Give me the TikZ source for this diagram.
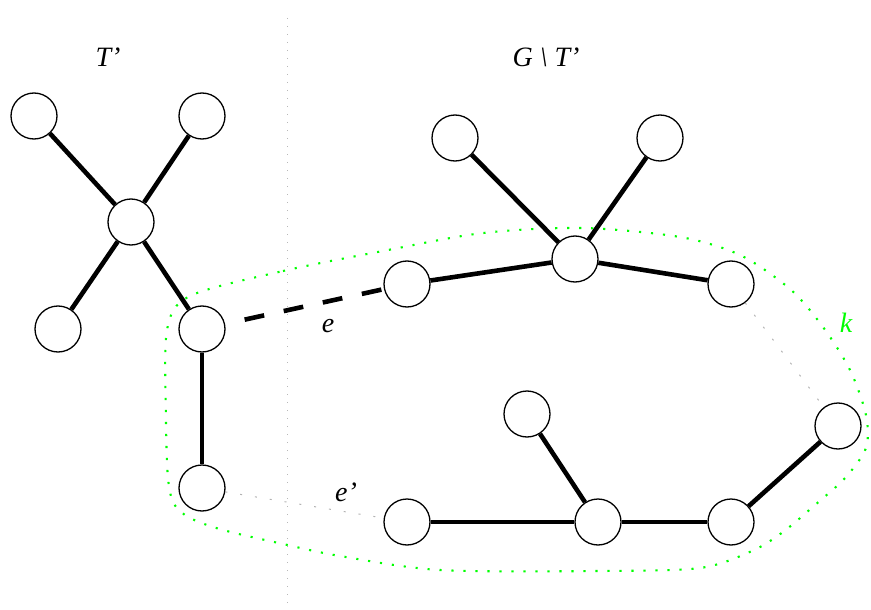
\documentclass[tikz,border=0pt]{standalone}
\usepackage{fontspec}
\setmainfont{Liberation Serif}
\begin{document}
\begin{tikzpicture}[x=1pt,y=-1pt,
  vtx/.style={circle,draw=black,line width=1.3pt,fill=white,minimum size=46pt,inner sep=0pt},
  tedge/.style={line width=4.6pt},
  dedge/.style={line width=4.6pt,dash pattern=on 20pt off 20pt,dash phase=20pt},
  gedge/.style={draw=black!30,line width=1pt,dash pattern=on 2pt off 13pt},
  sep/.style={draw=black!28,line width=1pt,dash pattern=on 1pt off 7pt},
  kcurve/.style={draw={rgb,255:red,0;green,255;blue,0},line width=2.1pt,dash pattern=on 2.1pt off 9.9pt},
  lbl/.style={font=\fontsize{28}{32}\selectfont\itshape,inner sep=0pt}
]
\useasboundingbox (0,0) rectangle (871,610);
% separator
\coordinate (s1) at (287,18);
\coordinate (s2) at (287,610);
\draw[sep] (s1) -- (s2);
% cluster curve k
\draw[kcurve] plot[smooth cycle,tension=0.5] coordinates {
 (190,296) (283,271) (383,251) (483,233) (583,228) (680,237) (740,255) (790,289)
 (823,327) (850,370) (866,415) (866,448) (845,478) (815,505) (783,532) (752,551)
 (700,568) (600,571) (440,570) (340,556) (283,544) (223,530) (190,518) (174,504)
 (168,478) (166,420) (167,330)};
% nodes
\node[vtx] (A1) at (34,116) {};
\node[vtx] (A2) at (202,116) {};
\node[vtx] (A3) at (131,222) {};
\node[vtx] (A4) at (58,329) {};
\node[vtx] (A5) at (202,329) {};
\node[vtx] (A6) at (202,488) {};
\node[vtx] (B1) at (455,138) {};
\node[vtx] (B2) at (660,138) {};
\node[vtx] (B3) at (575,259) {};
\node[vtx] (B4) at (407,284) {};
\node[vtx] (B5) at (731,284) {};
\node[vtx] (C1) at (527,414) {};
\node[vtx] (C2) at (838,426) {};
\node[vtx] (C3) at (407,522) {};
\node[vtx] (C4) at (598,522) {};
\node[vtx] (C5) at (731,522) {};
% edges
\draw[tedge] (A1) -- (A3);
\draw[tedge] (A2) -- (A3);
\draw[tedge] (A3) -- (A4);
\draw[tedge] (A3) -- (A5);
\draw[tedge] (A5) -- (A6);
\draw[tedge] (B1) -- (B3);
\draw[tedge] (B2) -- (B3);
\draw[tedge] (B4) -- (B3);
\draw[tedge] (B3) -- (B5);
\draw[tedge] (C1) -- (C4);
\draw[tedge] (C3) -- (C4);
\draw[tedge] (C4) -- (C5);
\draw[tedge] (C5) -- (C2);
\draw[dedge] (A5) -- (B4);
\draw[gedge] (A6) -- (C3);
\draw[gedge] (B5) -- (C2);
% labels
\node[lbl] (lT) at (108,57) {T’};
\node[lbl] (lG) at (546,57) {G \textbackslash\ T’};
\node[lbl] (le) at (328,326) {e};
\node[lbl] (le2) at (346,492) {e’};
\node[lbl,text={rgb,255:red,0;green,255;blue,0}] (lk) at (846,323) {k};
\end{tikzpicture}
\end{document}
